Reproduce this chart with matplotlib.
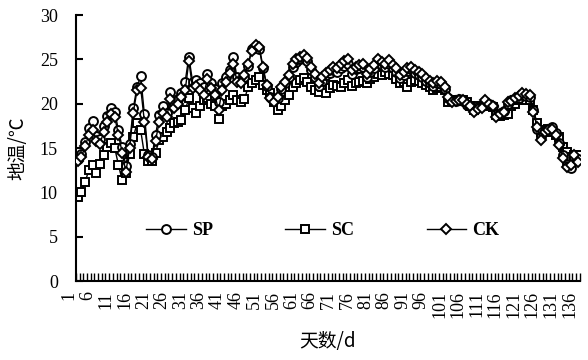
import numpy as np
import matplotlib
matplotlib.use("Agg")
import matplotlib.pyplot as plt

# daily soil temperature (deg C), days 1-136
sp = [13.8, 14.3, 15.7, 17.3, 18.1, 16.4, 16.0, 17.5, 18.6, 19.5,
      19.1, 17.0, 15.1, 13.0, 15.5, 19.5, 21.9, 23.1, 18.8, 14.2,
      14.0, 16.5, 18.7, 19.7, 19.0, 21.3, 20.0, 20.5, 21.2, 22.5,
      25.3, 22.5, 22.7, 22.3, 21.9, 23.4, 22.3, 21.7, 20.2, 22.3,
      23.0, 23.8, 25.3, 23.0, 22.7, 23.0, 24.3, 26.2, 26.5, 26.2,
      24.0, 22.0, 20.8, 20.4, 20.7, 21.7, 22.3, 23.0, 24.2, 24.7,
      25.0, 25.2, 24.8, 23.8, 23.0, 22.0, 22.6, 23.2, 23.5, 23.8,
      23.6, 24.0, 24.3, 24.5, 23.4, 23.9, 24.0, 24.2, 23.0, 23.6,
      24.0, 24.6, 24.4, 24.2, 24.5, 24.0, 23.6, 22.9, 23.3, 23.7,
      23.9, 23.5, 23.3, 23.0, 22.6, 22.4, 22.0, 22.3, 22.2, 21.7,
      20.6, 20.4, 20.3, 20.5, 20.3, 19.9, 19.8, 19.3, 19.6, 19.7,
      20.2, 20.0, 19.8, 18.8, 18.9, 19.2, 20.0, 20.4, 20.5, 20.7,
      21.0, 20.9, 20.8, 19.3, 17.2, 16.2, 16.9, 17.2, 17.4, 16.7,
      15.6, 14.2, 13.2, 12.8, 13.9, 13.8]

sc = [9.5, 10.1, 11.2, 12.5, 13.1, 12.2, 13.2, 14.2, 15.1, 15.6,
      15.0, 13.1, 11.4, 12.2, 14.3, 16.2, 17.8, 17.0, 14.3, 13.6,
      13.6, 14.5, 15.9, 16.3, 16.8, 17.3, 17.8, 18.0, 18.2, 19.3,
      20.6, 19.5, 19.0, 19.8, 20.4, 20.6, 20.0, 19.8, 18.3, 19.7,
      20.0, 20.4, 21.0, 20.4, 20.2, 20.5, 21.9, 22.4, 22.7, 23.0,
      22.1, 21.6, 21.2, 20.2, 19.3, 19.8, 20.4, 21.0, 21.9, 22.3,
      22.7, 22.9, 22.5, 21.9, 21.5, 21.3, 21.9, 21.2, 21.8, 22.1,
      22.0, 21.9, 22.4, 22.7, 22.0, 22.4, 22.5, 22.6, 22.3, 22.8,
      23.0, 23.4, 23.3, 23.6, 23.4, 23.2, 22.8, 22.3, 22.5, 21.9,
      22.5, 22.7, 22.6, 22.3, 22.1, 21.9, 21.5, 21.8, 21.9, 21.5,
      20.2, 20.4, 20.3, 20.4, 20.4, 20.2, 19.8, 19.3, 19.7, 19.7,
      19.9, 19.7, 19.6, 18.7, 18.6, 18.7, 18.9, 19.8, 20.0, 20.4,
      20.5, 20.4, 20.4, 19.3, 17.8, 16.8, 17.0, 17.2, 16.8, 16.5,
      16.3, 15.1, 14.6, 14.0, 14.2, 14.2]

ck = [13.5, 14.0, 15.2, 16.5, 17.0, 15.8, 15.5, 16.8, 18.0, 18.8,
      18.5, 16.5, 14.5, 12.3, 15.0, 19.0, 21.5, 21.8, 18.0, 14.0,
      13.8, 15.8, 18.0, 19.0, 18.5, 20.5, 19.5, 20.0, 20.8, 21.5,
      24.8, 21.8, 22.0, 21.5, 21.0, 22.8, 21.8, 21.0, 19.3, 21.5,
      22.5, 23.5, 24.5, 22.5, 22.3, 23.2, 24.5, 26.0, 26.6, 26.4,
      24.2, 22.1, 20.6, 20.2, 20.8, 21.9, 22.5, 23.2, 24.5, 25.0,
      25.3, 25.5, 25.2, 24.2, 23.4, 22.3, 23.0, 23.5, 23.8, 24.2,
      24.0, 24.5, 24.8, 25.0, 23.8, 24.2, 24.4, 24.5, 23.4, 23.9,
      24.4, 25.1, 24.7, 24.5, 24.9, 24.4, 24.0, 23.2, 23.6, 24.0,
      24.2, 23.8, 23.6, 23.4, 22.9, 22.6, 22.3, 22.6, 22.5, 21.9,
      20.8, 20.2, 20.3, 20.4, 20.4, 20.0, 19.7, 19.1, 19.4, 19.5,
      20.4, 20.0, 19.7, 18.5, 18.8, 19.1, 20.2, 20.3, 20.6, 20.9,
      21.2, 21.1, 21.0, 19.1, 17.4, 15.9, 16.8, 17.0, 17.2, 16.5,
      15.3, 13.9, 12.9, 13.1, 14.2, 13.4]

days = np.arange(1, len(sp) + 1)
label_days = list(range(1, 137, 5))

serif = ["Liberation Serif", "Noto Sans CJK SC"]
cjk = ["Noto Sans CJK SC", "Liberation Serif"]

fig = plt.figure(figsize=(5.88, 3.60), dpi=100)
ax = fig.add_axes([0.129, 0.219, 0.857, 0.739])

style = dict(color="black", linewidth=1.0, markersize=6.4,
             markerfacecolor="white", markeredgecolor="black",
             markeredgewidth=1.4)
ax.plot(days, sc, marker="s", label="SC", zorder=2, **style)
ax.plot(days, sp, marker="o", label="SP", zorder=3, **style)
ax.plot(days, ck, marker="D", label="CK", zorder=4,
        **{**style, "markersize": 5.4})

ax.set_xlim(0.5, 136.5)
ax.set_ylim(0, 30)
ax.set_yticks(range(0, 31, 5))

# ticks between categories, labels every 5 days
ax.set_xticks(np.arange(0.5, 137, 1.0), minor=True)
ax.set_xticks(label_days)
ax.set_xticklabels([str(d) for d in label_days], rotation=90, ha="right",
                   family=serif, fontsize=13)
ax.tick_params(axis="x", which="major", length=0, pad=7)
ax.tick_params(axis="x", which="minor", direction="in", length=6, width=1)
ax.tick_params(axis="y", direction="in", length=5, width=1.5, pad=13)
for t in ax.get_yticklabels():
    t.set_family(serif)
    t.set_fontsize(13)

for s in ["top", "right"]:
    ax.spines[s].set_visible(False)
for s in ["left", "bottom"]:
    ax.spines[s].set_linewidth(1.5)

ax.set_ylabel("地温/℃", family=cjk, fontsize=13.5, labelpad=8)
ax.set_xlabel("天数/d", family=cjk, fontsize=13.5, labelpad=9)

h, l = ax.get_legend_handles_labels()
order = [1, 0, 2]
ax.legend([h[i] for i in order], [l[i] for i in order], ncol=3,
          frameon=False, loc="center", bbox_to_anchor=(0.49, 0.19),
          numpoints=1, handlelength=2.2, handletextpad=0.35,
          columnspacing=4.0, prop={"family": serif, "size": 13,
                                   "weight": "bold"})

fig.savefig("out.png", dpi=100)
